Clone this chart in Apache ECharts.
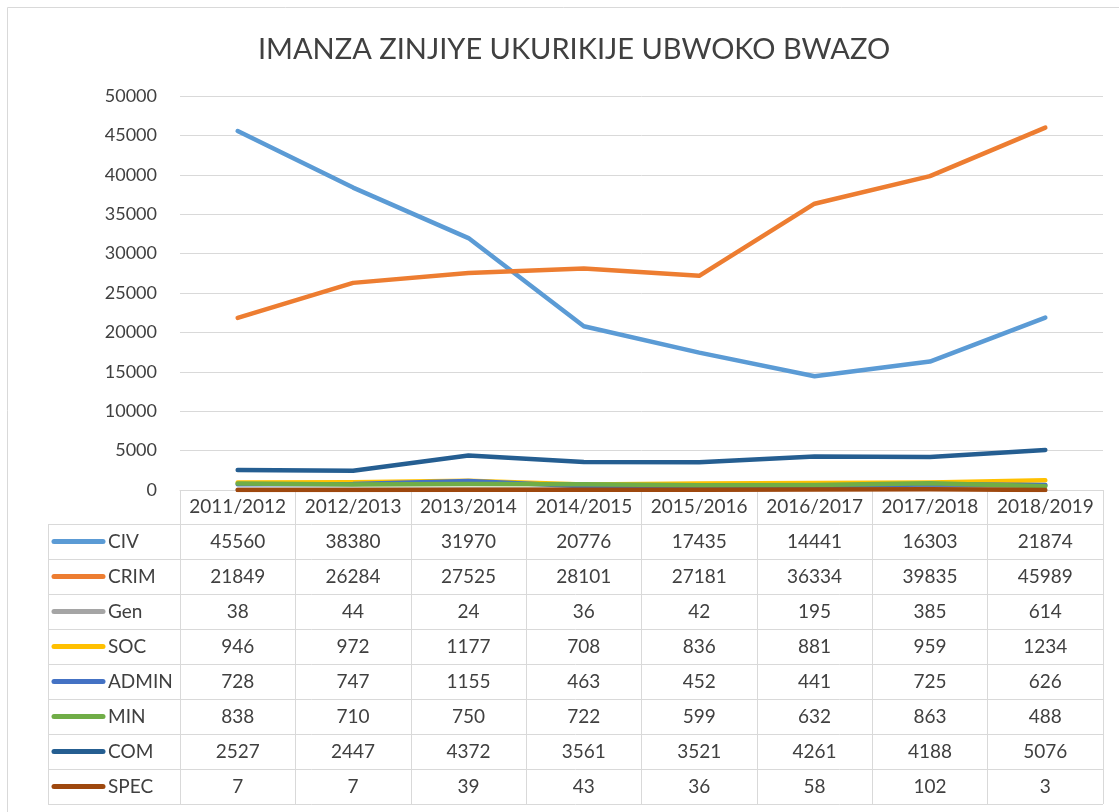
<!DOCTYPE html>
<html>
<head>
<meta charset="utf-8">
<title>IMANZA ZINJIYE UKURIKIJE UBWOKO BWAZO</title>
<script src="https://cdn.jsdelivr.net/npm/echarts@6/dist/echarts.min.js"></script>
<style>
  html, body { margin: 0; padding: 0; background: #fff; }
  #chart { width: 1119px; height: 812px; }
</style>
</head>
<body>
<div id="chart"></div>
<script>
// data
const years = ['2011/2012', '2012/2013', '2013/2014', '2014/2015', '2015/2016', '2016/2017', '2017/2018', '2018/2019']
const seriesNames = ['CIV', 'CRIM', 'Gen', 'SOC', 'ADMIN', 'MIN', 'COM', 'SPEC']
const civ = [45560, 38380, 31970, 20776, 17435, 14441, 16303, 21874]
const crim = [21849, 26284, 27525, 28101, 27181, 36334, 39835, 45989]
const gen = [38, 44, 24, 36, 42, 195, 385, 614]
const soc = [946, 972, 1177, 708, 836, 881, 959, 1234]
const admin = [728, 747, 1155, 463, 452, 441, 725, 626]
const min = [838, 710, 750, 722, 599, 632, 863, 488]
const com = [2527, 2447, 4372, 3561, 3521, 4261, 4188, 5076]
const spec = [7, 7, 39, 43, 36, 58, 102, 3]
const yTicks = [0, 5000, 10000, 15000, 20000, 25000, 30000, 35000, 40000, 45000, 50000]

const seriesValues = [civ, crim, gen, soc, admin, min, com, spec]
const colors = ['#5B9BD5', '#ED7D31', '#A5A5A5', '#FFC000', '#4472C4', '#70AD47', '#255E91', '#9E480E']

const FONT = 'Lato, "Liberation Sans", sans-serif'
const TEXT = '#404040'
const LINE = '#D9D9D9'

// layout of the plot + data table
const gridLeft = 180
const gridRight = 16
const gridTop = 96
const axisY = 490
const headerH = 34
const rowH = 35
const tableLeft = 48

const chart = echarts.init(document.getElementById('chart'))

const option = {
    animation: false,
    color: colors,
    title: {
        text: 'IMANZA ZINJIYE UKURIKIJE UBWOKO BWAZO',
        left: 569,
        top: 30,
        textAlign: 'center',
        textStyle: {
            fontFamily: FONT,
            fontWeight: 'normal',
            fontSize: 29,
            color: '#404040'
        }
    },
    grid: {
        left: gridLeft,
        right: gridRight,
        top: gridTop,
        bottom: 812 - axisY,
        containLabel: false
    },
    xAxis: {
        type: 'category',
        data: years,
        boundaryGap: true,
        axisLine: { show: true, lineStyle: { color: LINE, width: 1 } },
        // ticks at the category edges form the columns of the data table
        axisTick: {
            show: true,
            interval: 0,
            alignWithLabel: false,
            length: headerH + rowH * seriesNames.length,
            lineStyle: { color: LINE, width: 1 }
        },
        axisLabel: {
            interval: 0,
            margin: 7,
            fontFamily: FONT,
            fontSize: 19,
            color: TEXT
        }
    },
    yAxis: {
        type: 'value',
        min: yTicks[0],
        max: yTicks[yTicks.length - 1],
        interval: yTicks[1] - yTicks[0],
        axisLine: { show: false },
        axisTick: { show: false },
        splitLine: { lineStyle: { color: LINE, width: 1 } },
        axisLabel: {
            margin: 23,
            formatter: v => String(v),
            fontFamily: FONT,
            fontSize: 18,
            color: TEXT
        }
    },
    series: seriesNames.map((name, i) => ({
        name: name,
        type: 'line',
        data: seriesValues[i],
        symbol: 'none',
        smooth: false,
        lineStyle: { width: 4.5, color: colors[i], cap: 'round', join: 'round' }
    }))
}

chart.setOption(option)

// data table under the axis, built from the same arrays
const graphics = []
const tableRight = 1119 - gridRight
const tableTop = axisY + headerH
const tableBottom = tableTop + rowH * seriesNames.length

graphics.push({
    type: 'rect',
    shape: { x: 7.5, y: 7.5, width: 1300, height: 1000 },
    style: { fill: 'none', stroke: LINE, lineWidth: 1 },
    silent: true,
    z: -1
})

for (let r = 0; r <= seriesNames.length; r++) {
    const y = Math.round(tableTop + r * rowH) + 0.5
    graphics.push({
        type: 'line',
        shape: { x1: tableLeft, y1: y, x2: tableRight, y2: y },
        style: { stroke: LINE, lineWidth: 1 },
        silent: true
    })
}
graphics.push({
    type: 'line',
    shape: { x1: tableLeft + 0.5, y1: tableTop, x2: tableLeft + 0.5, y2: tableBottom },
    style: { stroke: LINE, lineWidth: 1 },
    silent: true
})

seriesNames.forEach((name, r) => {
    const cy = tableTop + r * rowH + rowH / 2
    graphics.push({
        type: 'line',
        shape: { x1: 54, y1: cy, x2: 103, y2: cy },
        style: { stroke: colors[r], lineWidth: 5, lineCap: 'round' },
        silent: true
    })
    graphics.push({
        type: 'text',
        x: 108,
        y: cy,
        style: {
            text: name,
            fontFamily: FONT,
            fontSize: 19,
            fill: TEXT,
            align: 'left',
            verticalAlign: 'middle'
        },
        silent: true
    })
    seriesValues[r].forEach((v, c) => {
        const cx = chart.convertToPixel({ xAxisIndex: 0 }, years[c])
        graphics.push({
            type: 'text',
            x: cx,
            y: cy,
            style: {
                text: String(v),
                fontFamily: FONT,
                fontSize: 19,
                fill: TEXT,
                align: 'center',
                verticalAlign: 'middle'
            },
            silent: true
        })
    })
})

chart.setOption({ graphic: graphics })

window.addEventListener('resize', () => chart.resize())
</script>
</body>
</html>
